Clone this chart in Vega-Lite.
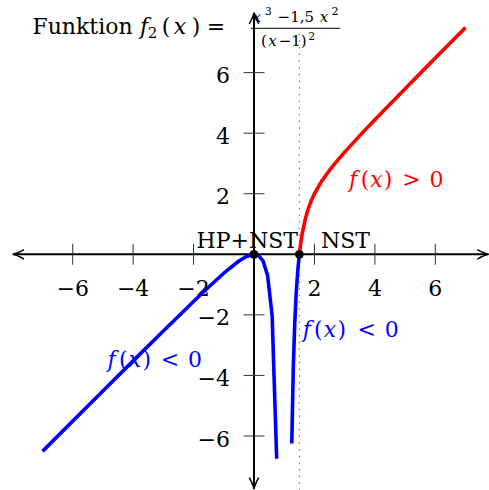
{
  "$schema": "https://vega.github.io/schema/vega-lite/v6.json",
  "width": 489,
  "height": 490,
  "padding": 0,
  "autosize": {"type": "none"},
  "background": "white",
  "config": {
    "view": {"stroke": null},
    "text": {"font": "DejaVu Serif", "fontSize": 22, "align": "center", "baseline": "alphabetic"}
  },
  "datasets": {
    "kurve": [
      {"x": -7, "y": -6.508, "ast": "links", "b": "negativ"},
      {"x": -6, "y": -5.51, "ast": "links", "b": "negativ"},
      {"x": -5, "y": -4.514, "ast": "links", "b": "negativ"},
      {"x": -4, "y": -3.52, "ast": "links", "b": "negativ"},
      {"x": -3, "y": -2.531, "ast": "links", "b": "negativ"},
      {"x": -2, "y": -1.556, "ast": "links", "b": "negativ"},
      {"x": -1.5, "y": -1.08, "ast": "links", "b": "negativ"},
      {"x": -1, "y": -0.625, "ast": "links", "b": "negativ"},
      {"x": -0.5, "y": -0.222, "ast": "links", "b": "negativ"},
      {"x": -0.25, "y": -0.07, "ast": "links", "b": "negativ"},
      {"x": 0, "y": 0, "ast": "links", "b": "negativ"},
      {"x": 0.15, "y": -0.042, "ast": "links", "b": "negativ"},
      {"x": 0.3, "y": -0.22, "ast": "links", "b": "negativ"},
      {"x": 0.45, "y": -0.703, "ast": "links", "b": "negativ"},
      {"x": 0.6, "y": -2.025, "ast": "links", "b": "negativ"},
      {"x": 0.75, "y": -6.75, "ast": "links", "b": "negativ"},
      {"x": 1.25, "y": -6.25, "ast": "mitte", "b": "negativ"},
      {"x": 1.3, "y": -3.756, "ast": "mitte", "b": "negativ"},
      {"x": 1.35, "y": -2.231, "ast": "mitte", "b": "negativ"},
      {"x": 1.4, "y": -1.225, "ast": "mitte", "b": "negativ"},
      {"x": 1.45, "y": -0.519, "ast": "mitte", "b": "negativ"},
      {"x": 1.5, "y": 0, "ast": "mitte", "b": "negativ"},
      {"x": 1.5, "y": 0, "ast": "rechts", "b": "positiv"},
      {"x": 1.55, "y": 0.397, "ast": "rechts", "b": "positiv"},
      {"x": 1.6, "y": 0.711, "ast": "rechts", "b": "positiv"},
      {"x": 1.7, "y": 1.18, "ast": "rechts", "b": "positiv"},
      {"x": 1.8, "y": 1.519, "ast": "rechts", "b": "positiv"},
      {"x": 1.9, "y": 1.783, "ast": "rechts", "b": "positiv"},
      {"x": 2, "y": 2, "ast": "rechts", "b": "positiv"},
      {"x": 2.25, "y": 2.43, "ast": "rechts", "b": "positiv"},
      {"x": 2.5, "y": 2.778, "ast": "rechts", "b": "positiv"},
      {"x": 2.75, "y": 3.087, "ast": "rechts", "b": "positiv"},
      {"x": 3, "y": 3.375, "ast": "rechts", "b": "positiv"},
      {"x": 3.5, "y": 3.92, "ast": "rechts", "b": "positiv"},
      {"x": 4, "y": 4.444, "ast": "rechts", "b": "positiv"},
      {"x": 4.5, "y": 4.959, "ast": "rechts", "b": "positiv"},
      {"x": 5, "y": 5.469, "ast": "rechts", "b": "positiv"},
      {"x": 5.5, "y": 5.975, "ast": "rechts", "b": "positiv"},
      {"x": 6, "y": 6.48, "ast": "rechts", "b": "positiv"},
      {"x": 6.5, "y": 6.983, "ast": "rechts", "b": "positiv"},
      {"x": 7, "y": 7.486, "ast": "rechts", "b": "positiv"}
    ],
    "xticks": [
      {"x": -6, "y": 0, "t": "−6"}, {"x": -4, "y": 0, "t": "−4"}, {"x": -2, "y": 0, "t": "−2"},
      {"x": 2, "y": 0, "t": "2"}, {"x": 4, "y": 0, "t": "4"}, {"x": 6, "y": 0, "t": "6"}
    ],
    "yticks": [
      {"x": 0, "y": -6, "t": "−6"}, {"x": 0, "y": -4, "t": "−4"}, {"x": 0, "y": -2, "t": "−2"},
      {"x": 0, "y": 2, "t": "2"}, {"x": 0, "y": 4, "t": "4"}, {"x": 0, "y": 6, "t": "6"}
    ],
    "text_gross": [
      {"x": -5.675, "y": 7.265, "t": "Funktion", "b": "neutral"},
      {"x": -2.912, "y": 7.265, "t": "(", "b": "neutral"},
      {"x": -1.919, "y": 7.265, "t": ")", "b": "neutral"},
      {"x": -1.257, "y": 7.265, "t": "=", "b": "neutral"},
      {"x": -0.225, "y": 0.198, "t": "HP+NST", "b": "neutral"},
      {"x": 3.028, "y": 0.198, "t": "NST", "b": "neutral"},
      {"x": 3.673, "y": 2.232, "t": "(", "b": "positiv"},
      {"x": 4.434, "y": 2.232, "t": ")", "b": "positiv"},
      {"x": 5.212, "y": 2.232, "t": ">", "b": "positiv"},
      {"x": 6.039, "y": 2.232, "t": "0", "b": "positiv"},
      {"x": 2.128, "y": -2.721, "t": "(", "b": "negativ"},
      {"x": 2.902, "y": -2.721, "t": ")", "b": "negativ"},
      {"x": 3.729, "y": -2.721, "t": "<", "b": "negativ"},
      {"x": 4.557, "y": -2.721, "t": "0", "b": "negativ"},
      {"x": -4.325, "y": -3.712, "t": "(", "b": "negativ"},
      {"x": -3.551, "y": -3.712, "t": ")", "b": "negativ"},
      {"x": -2.78, "y": -3.712, "t": "<", "b": "negativ"},
      {"x": -1.952, "y": -3.712, "t": "0", "b": "negativ"}
    ],
    "text_kursiv": [
      {"x": -3.64, "y": 7.265, "t": "f", "b": "neutral"},
      {"x": -2.449, "y": 7.265, "t": "x", "b": "neutral"},
      {"x": 3.276, "y": 2.232, "t": "f", "b": "positiv"},
      {"x": 4.054, "y": 2.232, "t": "x", "b": "positiv"},
      {"x": 1.744, "y": -2.721, "t": "f", "b": "negativ"},
      {"x": 2.515, "y": -2.721, "t": "x", "b": "negativ"},
      {"x": -4.709, "y": -3.712, "t": "f", "b": "negativ"},
      {"x": -3.938, "y": -3.712, "t": "x", "b": "negativ"}
    ],
    "text_klein": [
      {"x": -3.359, "y": 7.133, "t": "2"},
      {"x": 1.384, "y": 7.66, "t": "−1,5"},
      {"x": 0.331, "y": 6.879, "t": "("},
      {"x": 1.281, "y": 6.879, "t": "−1)"}
    ],
    "text_klein_kursiv": [
      {"x": 0.099, "y": 7.66, "t": "x"},
      {"x": 2.316, "y": 7.66, "t": "x"},
      {"x": 0.612, "y": 6.879, "t": "x"}
    ],
    "text_hoch": [
      {"x": 0.474, "y": 7.903, "t": "3"},
      {"x": 2.68, "y": 7.903, "t": "2"},
      {"x": 1.909, "y": 7.07, "t": "2"}
    ]
  },
  "encoding": {
    "x": {"field": "x", "type": "quantitative", "scale": {"domain": [-8.405, 7.776], "nice": false, "zero": false}, "axis": null},
    "y": {"field": "y", "type": "quantitative", "scale": {"domain": [-7.784, 8.398], "nice": false, "zero": false}, "axis": null}
  },
  "layer": [
    {
      "data": {"values": [{"x": 1.5, "y": -7.8, "y2": 7.4}]},
      "mark": {"type": "rule", "color": "#444444", "strokeWidth": 1, "strokeDash": [1.2, 5.5]},
      "encoding": {"y2": {"field": "y2"}}
    },
    {
      "data": {"values": [
        {"x": -7.97, "x2": 7.75, "y": 0, "y2": 0},
        {"x": 0, "x2": 0, "y": -7.73, "y2": 7.96}
      ]},
      "mark": {"type": "rule", "color": "black", "strokeWidth": 2},
      "encoding": {"x2": {"field": "x2"}, "y2": {"field": "y2"}}
    },
    {
      "data": {"values": [
        {"x": 7.766, "y": 0, "richtung": "rechts"},
        {"x": -7.985, "y": 0, "richtung": "links"},
        {"x": 0, "y": 7.979, "richtung": "oben"},
        {"x": 0, "y": -7.751, "richtung": "unten"}
      ]},
      "mark": {"type": "point", "filled": false, "stroke": "black", "strokeWidth": 1.5, "opacity": 1, "size": 511},
      "encoding": {
        "shape": {
          "field": "richtung", "type": "nominal", "legend": null,
          "scale": {
            "domain": ["rechts", "links", "oben", "unten"],
            "range": [
              "M-1,-0.42Q-0.4,-0.08,0,0Q-0.4,0.08,-1,0.42",
              "M1,-0.42Q0.4,-0.08,0,0Q0.4,0.08,1,0.42",
              "M-0.42,1Q-0.08,0.4,0,0Q0.08,0.4,0.42,1",
              "M-0.42,-1Q-0.08,-0.4,0,0Q0.08,-0.4,0.42,-1"
            ]
          }
        }
      }
    },
    {
      "data": {"name": "xticks"},
      "mark": {"type": "tick", "orient": "vertical", "color": "#333333", "thickness": 1, "size": 21, "opacity": 1}
    },
    {
      "data": {"name": "yticks"},
      "mark": {"type": "tick", "orient": "horizontal", "color": "#333333", "thickness": 1, "size": 21, "opacity": 1}
    },
    {
      "data": {"name": "xticks"},
      "mark": {"type": "text", "color": "black", "dy": 41.4},
      "encoding": {"text": {"field": "t"}}
    },
    {
      "data": {"name": "yticks"},
      "mark": {"type": "text", "color": "black", "align": "right", "dx": -24, "dy": 10.6},
      "encoding": {"text": {"field": "t"}}
    },
    {
      "data": {"name": "text_gross"},
      "mark": {"type": "text"},
      "encoding": {
        "text": {"field": "t"},
        "color": {"field": "b", "type": "nominal", "legend": null,
          "scale": {"domain": ["neutral", "positiv", "negativ"], "range": ["black", "#ff0000", "#0000ff"]}}
      }
    },
    {
      "data": {"name": "text_kursiv"},
      "mark": {"type": "text", "fontStyle": "italic"},
      "encoding": {
        "text": {"field": "t"},
        "color": {"field": "b", "type": "nominal", "legend": null,
          "scale": {"domain": ["neutral", "positiv", "negativ"], "range": ["black", "#ff0000", "#0000ff"]}}
      }
    },
    {
      "data": {"name": "text_klein"},
      "mark": {"type": "text", "fontSize": 15, "color": "black"},
      "encoding": {"text": {"field": "t"}}
    },
    {
      "data": {"name": "text_klein_kursiv"},
      "mark": {"type": "text", "fontSize": 15, "fontStyle": "italic", "color": "black"},
      "encoding": {"text": {"field": "t"}}
    },
    {
      "data": {"name": "text_hoch"},
      "mark": {"type": "text", "fontSize": 11, "color": "black"},
      "encoding": {"text": {"field": "t"}}
    },
    {
      "data": {"values": [{"x": -0.109, "x2": 2.858, "y": 7.464}]},
      "mark": {"type": "rule", "color": "black", "strokeWidth": 1},
      "encoding": {"x2": {"field": "x2"}}
    },
    {
      "data": {"name": "kurve"},
      "mark": {"type": "line", "strokeWidth": 3.6, "strokeCap": "butt", "strokeJoin": "round"},
      "encoding": {
        "detail": {"field": "ast", "type": "nominal"},
        "color": {"field": "b", "type": "nominal", "legend": null,
          "scale": {"domain": ["neutral", "positiv", "negativ"], "range": ["black", "#ff0000", "#0000ff"]}}
      }
    },
    {
      "data": {"values": [{"x": 0, "y": 0}, {"x": 1.5, "y": 0}]},
      "mark": {"type": "point", "filled": true, "color": "black", "opacity": 1, "size": 78}
    }
  ]
}
